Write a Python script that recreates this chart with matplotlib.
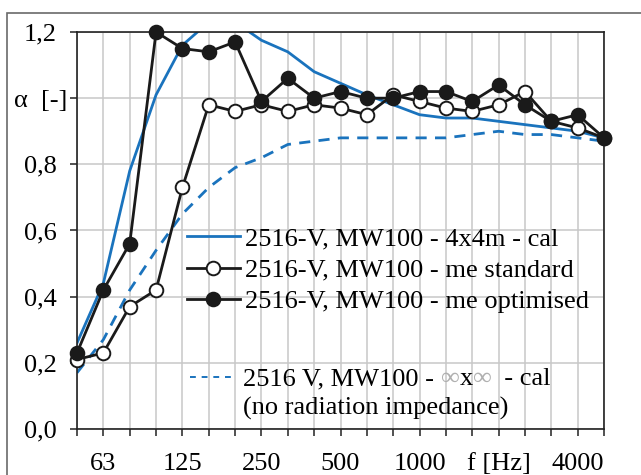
import matplotlib
matplotlib.use("Agg")
import matplotlib.pyplot as plt
from matplotlib.patches import Rectangle
from matplotlib.lines import Line2D
import numpy as np

plt.rcParams['font.family'] = ['Liberation Serif', 'DejaVu Serif']

bands = [50, 63, 80, 100, 125, 160, 200, 250, 315, 400, 500, 630, 800,
         1000, 1250, 1600, 2000, 2500, 3150, 4000, 5000]
tick_labels = {63: '63', 125: '125', 250: '250', 500: '500', 1000: '1000',
               2000: 'f [Hz]', 4000: '4000'}

cal_4x4 = [0.26, 0.44, 0.78, 1.01, 1.16, 1.23, 1.23, 1.175, 1.14, 1.08,
           1.045, 1.01, 0.98, 0.95, 0.94, 0.94, 0.93, 0.92, 0.91, 0.90, 0.88]
me_standard = [0.21, 0.23, 0.37, 0.42, 0.73, 0.98, 0.96, 0.98, 0.96, 0.98,
               0.97, 0.95, 1.01, 0.99, 0.97, 0.96, 0.98, 1.02, 0.93, 0.91, 0.88]
me_optimised = [0.23, 0.42, 0.56, 1.20, 1.15, 1.14, 1.17, 0.99, 1.06, 1.00,
                1.02, 1.00, 1.00, 1.02, 1.02, 0.99, 1.04, 0.98, 0.93, 0.95, 0.88]
cal_inf = [0.17, 0.27, 0.42, 0.54, 0.65, 0.73, 0.79, 0.82, 0.86, 0.87,
           0.88, 0.88, 0.88, 0.88, 0.88, 0.89, 0.90, 0.89, 0.89, 0.88, 0.87]

y_ticks = [0.0, 0.2, 0.4, 0.6, 0.8, 1.0, 1.2]
y_tick_labels = ['0,0', '0,2', '0,4', '0,6', '0,8', 'α  [-]', '1,2']

labels = ['2516-V, MW100 - 4x4m - cal',
          '2516-V, MW100 - me standard',
          '2516-V, MW100 - me optimised']

BLUE = '#1a73bd'
DARK = '#1a1a1a'
FS = 19

fig = plt.figure(figsize=(6.41, 4.75), dpi=100)
fig.patches.append(Rectangle((7/641, -0.05), 1.2, 1 - 13/475 + 0.05,
                             transform=fig.transFigure, fill=False,
                             edgecolor='#6a6a6a', lw=1.2))
ax = fig.add_axes([77/641, 46/475, 527/641, 397/475])

x = np.arange(len(bands))
ax.plot(x, cal_inf, color=BLUE, lw=2.0, ls=(0, (4, 3)), zorder=2)
ax.plot(x, cal_4x4, color=BLUE, lw=2.0, zorder=2)
ax.plot(x, me_standard, color=DARK, lw=2.0, marker='o', ms=9.8,
        mfc='white', mec=DARK, mew=1.4, zorder=3, clip_on=False)
ax.plot(x, me_optimised, color=DARK, lw=2.0, marker='o', ms=9.8,
        mfc=DARK, mec=DARK, mew=1.4, zorder=4, clip_on=False)

ax.set_xlim(0, len(bands) - 1)
ax.set_ylim(0, 1.2)
ax.set_xticks(x)
ax.set_xticklabels([tick_labels.get(b, '') for b in bands], fontsize=FS)
ax.set_yticks(y_ticks)
ax.set_yticklabels(y_tick_labels, fontsize=FS, ha='center')
ax.tick_params(axis='both', direction='out', length=5, width=1.2,
               color='#333333')
ax.tick_params(axis='x', pad=12)
ax.tick_params(axis='y', pad=21.5)
ax.grid(True, color='#c8c8c8', lw=1.1, zorder=0)
ax.set_axisbelow(True)
for s in ax.spines.values():
    s.set_color('#222222')
    s.set_linewidth(1.2)

handles = [Line2D([], [], color=BLUE, lw=2.0),
           Line2D([], [], color=DARK, lw=2.0, marker='o', ms=9.8,
                  mfc='white', mec=DARK, mew=1.4),
           Line2D([], [], color=DARK, lw=2.0, marker='o', ms=9.8,
                  mfc=DARK, mec=DARK, mew=1.4)]
leg = ax.legend(handles, labels, loc='upper left',
                bbox_to_anchor=((187 - 77) / 527, (429 - 227) / 397),
                frameon=False, fontsize=FS, handlelength=2.0,
                handletextpad=0.2, labelspacing=0.3, borderpad=0,
                borderaxespad=0)
ax.add_artist(leg)

h2 = [Line2D([], [], color=BLUE, lw=1.4, ls=(0, (3, 3)))]
leg2 = ax.legend(h2, [' '], loc='center left',
                 bbox_to_anchor=((190 - 77) / 527, (429 - 379) / 397),
                 frameon=False, fontsize=FS, handlelength=1.65,
                 handletextpad=0.2, borderpad=0, borderaxespad=0)

t1 = ax.text((243 - 77) / 527, (429 - 379) / 397, '2516 V, MW100 - ',
             transform=ax.transAxes, fontsize=FS, va='center', ha='left')
t2 = ax.annotate('∞', xy=(1, 0), xycoords=t1, fontsize=FS,
                 color='#b0b0b0', va='bottom', ha='left',
                 xytext=(0, 0), textcoords='offset points')
t3 = ax.annotate('x', xy=(1, 0), xycoords=t2, fontsize=FS,
                 va='bottom', ha='left', xytext=(0, 0),
                 textcoords='offset points')
t4 = ax.annotate('∞', xy=(1, 0), xycoords=t3, fontsize=FS,
                 color='#b0b0b0', va='bottom', ha='left',
                 xytext=(0, 0), textcoords='offset points')
t5 = ax.annotate('  - cal', xy=(1, 0), xycoords=t4, fontsize=FS,
                 va='bottom', ha='left', xytext=(0, 0),
                 textcoords='offset points')
ax.text((243 - 77) / 527, (429 - 408) / 397, '(no radiation impedance)',
        transform=ax.transAxes, fontsize=FS, va='center', ha='left')

fig.savefig('out.png', dpi=100)
